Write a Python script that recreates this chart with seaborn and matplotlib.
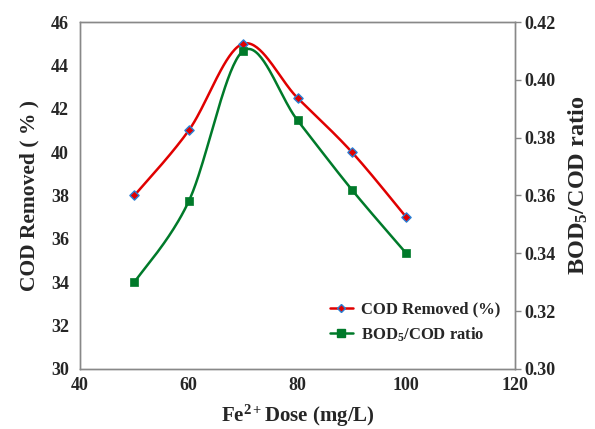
import numpy as np
import pandas as pd
import matplotlib
matplotlib.use("Agg")
import matplotlib.pyplot as plt
import seaborn as sns
from matplotlib.lines import Line2D

dose = [50, 60, 70, 80, 90, 100]
cod_removed = [38.0, 41.0, 45.0, 42.5, 40.0, 37.0]
bod_cod = [0.330, 0.358, 0.410, 0.386, 0.362, 0.340]

sns.set_style("white")
plt.rcParams['font.family'] = ['Liberation Serif', 'DejaVu Serif']
plt.rcParams['font.weight'] = 'bold'
plt.rcParams['mathtext.fontset'] = 'custom'
plt.rcParams['mathtext.rm'] = 'Liberation Serif:bold'
plt.rcParams['mathtext.it'] = 'Liberation Serif:bold'
plt.rcParams['mathtext.bf'] = 'Liberation Serif:bold'


def smooth(x, y, n=40):
    # Excel-style smoothed line (Bezier with Catmull-Rom control points)
    x = np.asarray(x, float); y = np.asarray(y, float)
    P = np.column_stack([x, y])
    Pe = np.vstack([P[0], P, P[-1]])
    out = []
    t = np.linspace(0, 1, n)[:, None]
    for i in range(len(P) - 1):
        p0, p1, p2, p3 = Pe[i], Pe[i + 1], Pe[i + 2], Pe[i + 3]
        c1 = p1 + (p2 - p0) / 6
        c2 = p2 - (p3 - p1) / 6
        seg = ((1 - t) ** 3) * p1 + 3 * ((1 - t) ** 2) * t * c1 + 3 * (1 - t) * t ** 2 * c2 + t ** 3 * p2
        out.append(seg if i == 0 else seg[1:])
    s = np.vstack(out)
    return s[:, 0], s[:, 1]


fig = plt.figure(figsize=(5.95, 4.29), dpi=100)
ax = fig.add_axes([0.1345, 0.1399, 0.731, 0.8088])
ax2 = ax.twinx()

red = '#e00000'
green = '#007a2a'

sx, sy = smooth(dose, cod_removed)
ax.plot(sx, sy, color=red, lw=1.8, zorder=2)
df1 = pd.DataFrame({'dose': dose, 'cod': cod_removed})
sns.scatterplot(data=df1, x='dose', y='cod', ax=ax, marker='D', s=22,
                color=red, edgecolor='#2a7fd4', linewidth=1.0, zorder=3)

gx, gy = smooth(dose, bod_cod)
ax2.plot(gx, gy, color=green, lw=1.8, zorder=2)
df2 = pd.DataFrame({'dose': dose, 'ratio': bod_cod})
sns.scatterplot(data=df2, x='dose', y='ratio', ax=ax2, marker='s', s=40,
                color=green, edgecolor=green, linewidth=0.5, zorder=3)

ax.set_xlim(40, 120)
ax.set_ylim(30, 46)
ax2.set_ylim(0.30, 0.42)
ax.set_xticks([40, 60, 80, 100, 120])
ax.set_yticks(np.arange(30, 47, 2))
ax2.set_yticks(np.arange(0.30, 0.421, 0.02))
ax2.set_yticklabels([f"{v:.2f}" for v in np.arange(0.30, 0.421, 0.02)])

for a in (ax, ax2):
    for sp in a.spines.values():
        sp.set_color('#888888')
        sp.set_linewidth(1.0)
    a.tick_params(labelsize=13)
    for lbl in a.get_xticklabels() + a.get_yticklabels():
        lbl.set_fontweight('bold')

ax.tick_params(axis='y', length=0, pad=8)
ax.tick_params(axis='x', length=0, pad=6)
ax2.tick_params(axis='y', length=4, width=1, color='#888888', direction='out', pad=3)
ax.set_xlabel('Fe$^{2+}$Dose (mg/L)', fontsize=15, fontweight='bold', labelpad=6)
ax.set_ylabel('COD Removed ( % )', fontsize=15.5, fontweight='bold', labelpad=8)
ax2.set_ylabel('BOD$_5$/COD ratio', fontsize=17.5, fontweight='bold')
ax2.yaxis.set_label_coords(1.118, 0.53)

handles = [
    Line2D([], [], color=red, lw=1.8, marker='D', markersize=4,
           markerfacecolor=red, markeredgecolor='#2a7fd4'),
    Line2D([], [], color=green, lw=1.8, marker='s', markersize=6,
           markerfacecolor=green, markeredgecolor=green),
]
ax.legend(handles, ['COD Removed (%)', 'BOD$_5$/COD ratio'], loc='lower right',
          bbox_to_anchor=(1.002, 0.03), frameon=False, prop={'size': 12, 'weight': 'bold'},
          handlelength=1.4, handletextpad=0.5, labelspacing=0.45)

fig.savefig('out.png', dpi=100)
